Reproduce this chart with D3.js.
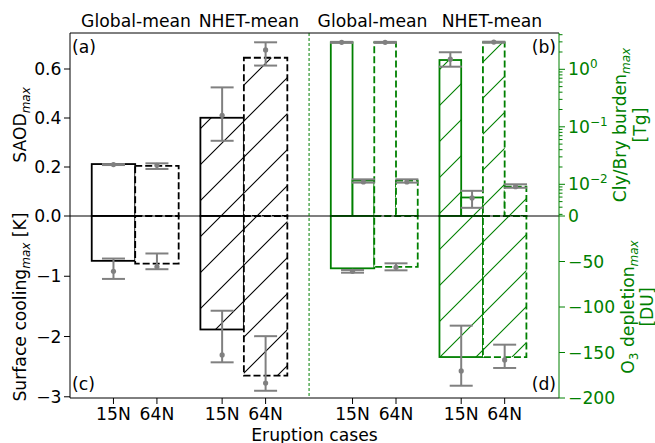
<!DOCTYPE html>
<html><head><meta charset="utf-8">
<script src="https://cdn.jsdelivr.net/npm/d3@7"></script>
<style>body{margin:0;background:#fff}svg{display:block}text{font-family:"DejaVu Sans",sans-serif}</style>
</head><body><svg id="c" width="655" height="443"></svg>
<script>
// ---- data ----
const cases = ["15N","64N","15N","64N"];
const regions = ["Global-mean","Global-mean","NHET-mean","NHET-mean"];
const groupTitles = ["Global-mean","NHET-mean"];
const leftPos = [0,1,2.5,3.5];
const rightPos = [5.5,6.5,8,9];
const dividerPos = 4.5;

const saod = [0.212,0.205,0.401,0.646];
const saodMean = [0.210,0.207,0.411,0.678];
const saodLo = [0.208,0.192,0.307,0.614];
const saodHi = [0.212,0.215,0.525,0.709];

const cooling = [-0.744,-0.789,-1.883,-2.65];
const coolingMean = [-0.917,-0.844,-2.306,-2.772];
const coolingLo = [-1.044,-0.883,-2.428,-2.90];
const coolingHi = [-0.706,-0.622,-1.572,-1.994];

const cly = [2.95,2.95,1.45,2.95];
const clyMean = [2.95,2.95,1.50,2.97];
const clyLo = [2.88,2.88,1.11,2.90];
const clyHi = [3.0,3.0,1.98,3.02];

const bry = [0.0116,0.0116,0.0059,0.0091];
const bryMean = [0.0110,0.0110,0.0058,0.0091];
const bryLo = [0.0107,0.0107,0.0039,0.0087];
const bryHi = [0.0122,0.0122,0.0077,0.0100];

const o3 = [-57.5,-56,-155,-155];
const o3Mean = [-60.8,-56.4,-170.3,-158.2];
const o3Lo = [-62.3,-59.7,-186.5,-167];
const o3Hi = [-59.3,-52,-120.5,-141.4];

const saodTicks = [0,0.2,0.4,0.6];
const saodTickLabels = ["0.0","0.2","0.4","0.6"];
const coolingTicks = [-1,-2,-3];
const coolingTickLabels = ["\u22121","\u22122","\u22123"];
const logTicks = [0.01,0.1,1];
const logTickExp = ["\u22122","\u22121","0"];
const o3Ticks = [0,-50,-100,-150,-200];
const o3TickLabels = ["0","\u221250","\u2212100","\u2212150","\u2212200"];

// ---- layout ----
const L=70,R=559,T=33,B=398,Z=216;
const GREEN="#008000", GREY="#808080";
const svg=d3.select("#c");
const x=d3.scaleLinear().domain([-1,10.25]).range([L,R]);
const ySaod=d3.scaleLinear().domain([0,0.747]).range([Z,T]);
const yCool=d3.scaleLinear().domain([-3.02,0]).range([B,Z]);
const yLog=d3.scaleLog().domain([0.00281,4.28]).range([Z,T]);
const yO3=d3.scaleLinear().domain([-200,0]).range([B,Z]);

const HP=36;
const defs=svg.append("defs");
function hatch(id,color){
  const p=defs.append("pattern").attr("id",id).attr("patternUnits","userSpaceOnUse")
    .attr("width",HP).attr("height",HP).attr("x",5).attr("y",0);
  p.append("rect").attr("width",HP).attr("height",HP).attr("fill","white");
  p.append("path").attr("d",`M-9,9L9,-9M0,${HP}L${HP},0M${HP-9},${HP+9}L${HP+9},${HP-9}`)
    .attr("stroke",color).attr("stroke-width",1.1).attr("fill","none");
}
hatch("hb","#000"); hatch("hg",GREEN);

const gBars=svg.append("g");
function bar(x0,x1,y0,y1,color,dashed,hatched){
  gBars.append("rect").attr("x",Math.min(x0,x1)).attr("y",Math.min(y0,y1))
    .attr("width",Math.abs(x1-x0)).attr("height",Math.abs(y1-y0))
    .attr("fill",hatched?(color===GREEN?"url(#hg)":"url(#hb)"):"white")
    .attr("stroke",color).attr("stroke-width",1.8)
    .attr("stroke-dasharray",dashed?"7,3":null);
}
const order=[0,2,1,3];
order.forEach(i=>{
  const dashed=cases[i]==="64N", hat=regions[i]==="NHET-mean";
  const p=leftPos[i];
  bar(x(p-0.5),x(p+0.5),ySaod(saod[i]),ySaod(0),"#000",dashed,hat);
  bar(x(p-0.5),x(p+0.5),yCool(cooling[i]),yCool(0),"#000",dashed,hat);
  const q=rightPos[i];
  bar(x(q-0.5),x(q),yLog(cly[i]),Z,GREEN,dashed,hat);
  bar(x(q),x(q+0.5),yLog(bry[i]),Z,GREEN,dashed,hat);
  bar(x(q-0.5),x(q+0.5),yO3(o3[i]),yO3(0),GREEN,dashed,hat);
});

svg.append("line").attr("x1",L).attr("x2",R).attr("y1",Z).attr("y2",Z).attr("stroke","#000").attr("stroke-width",1.2);
svg.append("line").attr("x1",x(dividerPos)).attr("x2",x(dividerPos)).attr("y1",T).attr("y2",B)
  .attr("stroke",GREEN).attr("stroke-width",1).attr("stroke-dasharray","3,2");

const gErr=svg.append("g").attr("stroke",GREY).attr("stroke-width",2);
function err(cx,ylo,yhi,ym){
  gErr.append("line").attr("x1",cx).attr("x2",cx).attr("y1",ylo).attr("y2",yhi);
  gErr.append("line").attr("x1",cx-11.5).attr("x2",cx+11.5).attr("y1",ylo).attr("y2",ylo);
  gErr.append("line").attr("x1",cx-11.5).attr("x2",cx+11.5).attr("y1",yhi).attr("y2",yhi);
  gErr.append("circle").attr("cx",cx).attr("cy",ym).attr("r",2.6).attr("fill",GREY).attr("stroke","none");
}
cases.forEach((c,i)=>{
  const p=leftPos[i], q=rightPos[i];
  err(x(p),ySaod(saodLo[i]),ySaod(saodHi[i]),ySaod(saodMean[i]));
  err(x(p),yCool(coolingLo[i]),yCool(coolingHi[i]),yCool(coolingMean[i]));
  err(x(q-0.25),yLog(clyLo[i]),yLog(clyHi[i]),yLog(clyMean[i]));
  err(x(q+0.25),yLog(bryLo[i]),yLog(bryHi[i]),yLog(bryMean[i]));
  err(x(q),yO3(o3Lo[i]),yO3(o3Hi[i]),yO3(o3Mean[i]));
});

svg.append("line").attr("x1",L).attr("x2",R).attr("y1",T).attr("y2",T).attr("stroke","#000");
svg.append("line").attr("x1",L).attr("x2",R).attr("y1",B).attr("y2",B).attr("stroke","#000");
svg.append("line").attr("x1",L).attr("x2",L).attr("y1",T).attr("y2",B).attr("stroke","#000");
svg.append("line").attr("x1",R).attr("x2",R).attr("y1",T).attr("y2",B).attr("stroke",GREEN);

const FS=17.2, SUB=12;
function lTick(y,label){
  svg.append("line").attr("x1",L-6).attr("x2",L).attr("y1",y).attr("y2",y).attr("stroke","#000");
  svg.append("text").attr("x",L-8.5).attr("y",y).attr("dy","0.36em").attr("text-anchor","end")
    .attr("font-size",FS).attr("fill","#000").text(label);
}
saodTicks.forEach((t,i)=>lTick(ySaod(t),saodTickLabels[i]));
coolingTicks.forEach((t,i)=>lTick(yCool(t),coolingTickLabels[i]));

function rTick(y,len){svg.append("line").attr("x1",R).attr("x2",R+len).attr("y1",y).attr("y2",y).attr("stroke",GREEN);}
logTicks.forEach((t,i)=>{
  const y=yLog(t); rTick(y,6);
  const tx=svg.append("text").attr("x",R+9).attr("y",y).attr("dy","0.36em").attr("font-size",FS).attr("fill",GREEN);
  tx.append("tspan").text("10");
  tx.append("tspan").attr("font-size",SUB).attr("dy",-7).text(logTickExp[i]);
});
for(let k=-3;k<=0;k++){for(let m=2;m<=9;m++){const v=m*Math.pow(10,k);
  if(v>=yLog.domain()[0]&&v<=yLog.domain()[1]) rTick(yLog(v),3.5);}}
o3Ticks.forEach((t,i)=>{
  const y=yO3(t); rTick(y,6);
  svg.append("text").attr("x",R+9).attr("y",y).attr("dy","0.36em").attr("font-size",FS).attr("fill",GREEN).text(o3TickLabels[i]);
});

leftPos.concat(rightPos).forEach((p,i)=>{
  svg.append("line").attr("x1",x(p)).attr("x2",x(p)).attr("y1",B).attr("y2",B+6).attr("stroke","#000");
  svg.append("text").attr("x",x(p)).attr("y",420).attr("text-anchor","middle").attr("font-size",FS).text(cases[i%4]);
});
svg.append("text").attr("x",(L+R)/2).attr("y",441).attr("text-anchor","middle").attr("font-size",FS).text("Eruption cases");

const titleX=[136,249,372.5,492];
[0,1,0,1].forEach((g,i)=>svg.append("text").attr("x",titleX[i]).attr("y",27).attr("text-anchor","middle").attr("font-size",FS).text(groupTitles[g]));

svg.append("text").attr("x",72).attr("y",53).attr("font-size",FS).text("(a)");
svg.append("text").attr("x",556).attr("y",53).attr("text-anchor","end").attr("font-size",FS).text("(b)");
svg.append("text").attr("x",72).attr("y",390).attr("font-size",FS).text("(c)");
svg.append("text").attr("x",556).attr("y",390).attr("text-anchor","end").attr("font-size",FS).text("(d)");

function rotLabel(cx,cy,parts,color){
  const t=svg.append("text").attr("transform",`translate(${cx},${cy}) rotate(-90)`).attr("text-anchor","middle")
    .attr("font-size",FS).attr("fill",color);
  parts.forEach(p=>{
    const s=t.append("tspan").text(p.t);
    if(p.sub){s.attr("font-size",SUB).attr("dy",4);if(p.it)s.attr("font-style","italic");}
    if(p.back){s.attr("dy",-4);}
  });
  return t;
}
rotLabel(26,125,[{t:"SAOD"},{t:"max",sub:1,it:1}],"#000");
rotLabel(26,307,[{t:"Surface cooling"},{t:"max",sub:1,it:1},{t:" [K]",back:1}],"#000");
rotLabel(626,125,[{t:"Cly/Bry burden"},{t:"max",sub:1,it:1}],GREEN);
rotLabel(646,125,[{t:"[Tg]"}],GREEN);
rotLabel(634,307,[{t:"O"},{t:"3",sub:1},{t:" depletion",back:1},{t:"max",sub:1,it:1}],GREEN);
rotLabel(653,307,[{t:"[DU]"}],GREEN);
</script></body></html>
